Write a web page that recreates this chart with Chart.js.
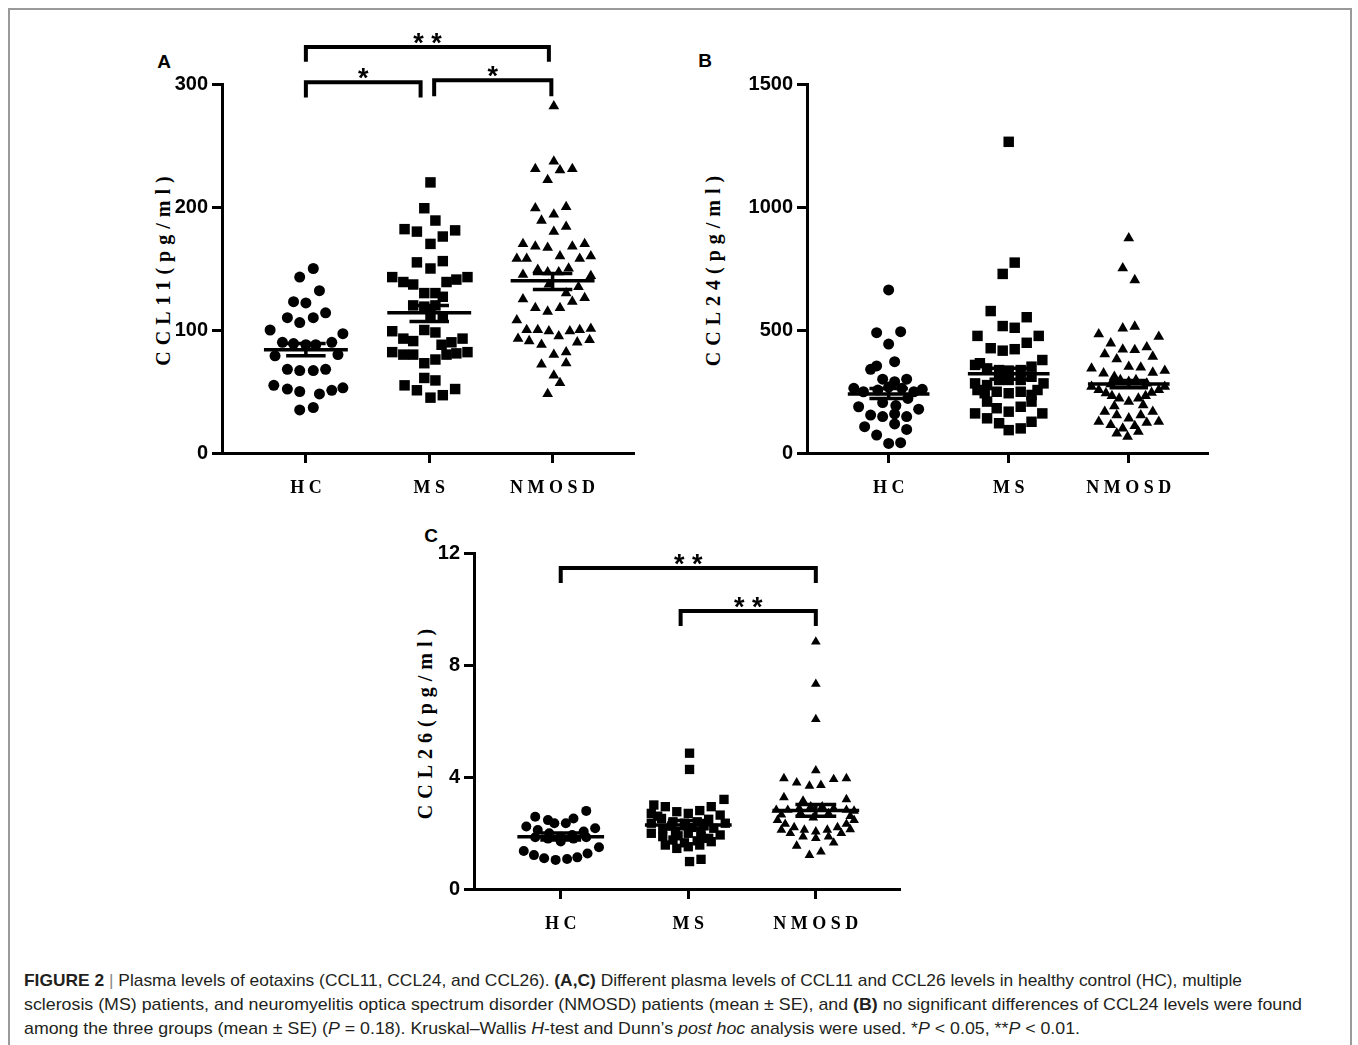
<!DOCTYPE html>
<html><head><meta charset="utf-8">
<script src="https://cdn.jsdelivr.net/npm/chart.js@4.4.0/dist/chart.umd.min.js"></script>
<style>
html,body{margin:0;padding:0;background:#fff;}
body{width:1358px;height:1045px;position:relative;overflow:hidden;font-family:"Liberation Sans",Arial,sans-serif;}
.frame{position:absolute;left:8px;top:8px;width:1340px;height:1060px;border:2px solid #9a9a9a;border-bottom:none;}
.wrap{position:absolute;}
.panel{position:absolute;font:bold 19px "Liberation Sans",Arial,sans-serif;color:#000;transform:translate(-50%,-50%);line-height:20px;}
.ytitle{position:absolute;font:bold 20px "Liberation Serif","Times New Roman",serif;letter-spacing:6px;white-space:nowrap;color:#000;transform:translate(-50%,-50%) rotate(-90deg);line-height:22px;}
.cap{position:absolute;left:24px;font-size:17px;line-height:20px;color:#231f20;white-space:nowrap;transform-origin:left center;font-family:"Liberation Sans Narrow","Liberation Sans",Arial,sans-serif;}
.cap .bar{color:#888;}
</style></head>
<body>
<div class="frame"></div>
<div class="panel" style="left:164px;top:62px">A</div>
<div class="panel" style="left:705px;top:61px">B</div>
<div class="panel" style="left:431px;top:536px">C</div>
<div class="ytitle" style="left:163px;top:268px">CCL11(pg/ml)</div>
<div class="ytitle" style="left:713px;top:268px">CCL24(pg/ml)</div>
<div class="ytitle" style="left:425px;top:721px">CCL26(pg/ml)</div>
<div class="wrap" style="left:140px;top:0;width:520px;height:530px"><canvas id="cA"></canvas></div>
<div class="wrap" style="left:690px;top:0;width:550px;height:530px"><canvas id="cB"></canvas></div>
<div class="wrap" style="left:400px;top:500px;width:530px;height:470px"><canvas id="cC"></canvas></div>
<div class="cap" id="l1" style="top:971px"><b>FIGURE 2</b> <span class="bar">|</span> Plasma levels of eotaxins (CCL11, CCL24, and CCL26). <b>(A,C)</b> Different plasma levels of CCL11 and CCL26 levels in healthy control (HC), multiple</div>
<div class="cap" id="l2" style="top:995px">sclerosis (MS) patients, and neuromyelitis optica spectrum disorder (NMOSD) patients (mean ± SE), and <b>(B)</b> no significant differences of CCL24 levels were found</div>
<div class="cap" id="l3" style="top:1019px">among the three groups (mean ± SE) (<i>P</i> = 0.18). Kruskal–Wallis <i>H</i>-test and Dunn’s <i>post hoc</i> analysis were used. *<i>P</i> &lt; 0.05, **<i>P</i> &lt; 0.01.</div>
<script>
// ---------- data ----------
const groups = ['H C', 'M S', 'N M O S D'];

const ccl11HC = [150,143,132,123,122,110,106,110,114,100,97,90,89,88,88,90,79,80,68,67,67,68,55,52,50,48,51,53,35,37];
const ccl11HCJit = [0.06,-0.05,0.11,-0.10,0.00,-0.15,-0.05,0.06,0.16,-0.29,0.30,-0.19,-0.10,0.00,0.08,0.21,-0.25,0.26,-0.15,-0.05,0.06,0.16,-0.26,-0.15,-0.05,0.11,0.21,0.30,-0.05,0.06];
const ccl11MS = [220,199,189,182,180,176,181,170,155,150,156,143,139,137,139,141,143,130,130,127,120,119,120,112,111,99,93,91,100,98,90,93,88,82,80,80,73,76,80,81,82,61,59,55,51,45,47,52];
const ccl11MSJit = [0.01,-0.04,0.05,-0.20,-0.10,0.11,0.21,0.01,-0.10,0.01,0.11,-0.30,-0.21,-0.13,0.14,0.22,0.31,-0.04,0.05,0.11,-0.13,-0.04,0.05,0.01,0.11,-0.30,-0.21,-0.13,-0.04,0.05,0.18,0.27,0.10,-0.30,-0.21,-0.13,-0.04,0.05,0.14,0.22,0.31,-0.04,0.05,-0.20,-0.10,0.01,0.11,0.21];
const ccl11NMOSD = [282,231,237,230,231,222,199,200,189,194,180,184,170,168,167,168,170,158,158,160,158,160,145,149,147,147,150,144,137,130,135,125,118,115,118,123,126,108,100,100,99,95,99,100,101,93,91,88,90,92,80,82,72,73,63,57,48];
const ccl11NMOSDJit = [0.01,-0.14,0.01,0.06,0.16,-0.04,-0.14,0.11,-0.09,0.01,0.01,0.11,-0.24,-0.14,-0.04,0.16,0.26,-0.29,-0.21,0.06,0.22,0.31,-0.24,-0.12,-0.04,0.05,0.13,0.31,-0.03,0.11,0.21,-0.24,-0.14,-0.04,0.06,0.16,0.26,-0.29,-0.21,-0.12,-0.03,0.05,0.14,0.22,0.31,-0.28,-0.19,-0.09,0.20,0.30,0.01,0.11,-0.09,0.11,0.01,0.06,-0.04];
const ccl11Mean = [84,114,140];
const ccl11SeLow = [79,107,133];
const ccl11SeHigh = [89,120,146];
const ccl11Ticks = [0,100,200,300];

const ccl24HC = [663,489,493,443,371,354,340,300,290,300,263,249,256,268,263,249,259,205,193,222,188,154,148,159,148,178,107,73,118,96,39,42];
const ccl24HCJit = [0.00,-0.10,0.10,0.00,0.05,-0.10,-0.15,-0.05,0.05,0.15,-0.29,-0.21,-0.09,0.00,0.11,0.21,0.28,-0.05,0.06,0.16,-0.25,-0.15,-0.05,0.05,0.15,0.25,-0.20,-0.10,0.05,0.15,0.00,0.10];
const ccl24MS = [1265,774,728,577,552,516,509,476,476,448,426,416,422,358,344,337,335,337,351,378,283,276,297,297,297,310,283,243,249,243,249,236,182,168,188,161,141,121,93,100,127,161,365,256,256,209,209];
const ccl24MSJit = [0.00,0.05,-0.05,-0.15,0.15,-0.05,0.05,-0.26,0.25,0.15,-0.15,-0.05,0.05,-0.28,-0.18,-0.08,0.00,0.10,0.19,0.28,-0.28,-0.18,-0.08,0.00,0.10,0.19,0.29,-0.20,-0.10,0.00,0.10,0.19,-0.10,0.00,0.10,-0.28,-0.18,-0.08,0.00,0.10,0.19,0.28,-0.24,-0.26,0.24,-0.18,0.19];
const ccl24NMOSD = [873,751,703,483,507,514,473,446,421,419,430,402,381,392,344,324,351,348,327,335,310,270,256,243,232,222,209,222,232,245,256,270,297,290,297,168,154,141,154,168,127,114,100,110,123,127,80,66,87,280,283,190,195];
const ccl24NMOSDJit = [0.00,-0.05,0.05,-0.25,-0.05,0.05,0.25,-0.15,-0.05,0.05,0.15,-0.20,-0.10,0.20,-0.31,-0.21,0.00,0.10,0.20,0.30,-0.12,-0.31,-0.25,-0.19,-0.14,-0.08,0.00,0.08,0.14,0.19,0.25,0.30,-0.07,0.00,0.06,-0.20,-0.10,0.00,0.10,0.20,-0.25,-0.15,-0.05,0.05,0.15,0.25,-0.10,-0.01,0.08,-0.15,0.15,-0.12,0.12];
const ccl24Mean = [240,322,280];
const ccl24SeLow = [222,300,265];
const ccl24SeHigh = [262,345,295];
const ccl24Ticks = [0,500,1000,1500];

const ccl26HC = [2.79,2.58,2.46,2.35,2.35,2.52,2.23,2.11,1.99,1.87,1.93,2.05,2.17,1.85,1.80,1.80,1.85,1.36,1.21,1.10,1.04,1.07,1.13,1.27,1.49,1.70];
const ccl26HCJit = [0.20,-0.20,-0.10,-0.05,0.04,0.10,-0.27,-0.18,-0.09,0.00,0.09,0.18,0.27,-0.20,-0.10,0.10,0.20,-0.29,-0.21,-0.13,-0.04,0.05,0.13,0.21,0.30,0.00];
const ccl26MS = [4.85,4.27,3.00,2.94,2.76,2.70,2.80,2.94,3.20,2.70,2.52,2.40,2.35,2.40,2.49,2.64,2.35,2.17,2.05,1.99,2.05,2.17,2.35,1.99,1.87,1.75,1.65,1.72,1.81,1.93,1.57,1.45,1.51,1.57,1.69,0.98,1.06,2.60,2.20,2.25,2.28,1.90,1.88];
const ccl26MSJit = [0.01,0.01,-0.27,-0.18,-0.09,0.00,0.09,0.18,0.28,-0.29,-0.21,-0.12,-0.03,0.07,0.16,0.25,-0.29,-0.20,-0.10,0.00,0.10,0.20,0.29,-0.29,-0.20,-0.12,-0.03,0.07,0.16,0.25,-0.18,-0.09,0.00,0.09,0.18,0.01,0.10,-0.24,0.03,-0.13,0.12,-0.08,0.10];
const ccl26NMOSD = [8.83,7.32,6.06,4.23,3.95,3.80,3.68,3.71,3.92,3.95,3.27,3.15,3.20,2.82,2.82,2.88,2.94,2.94,2.88,2.82,2.79,2.46,2.32,2.20,2.11,2.05,2.11,2.20,2.32,2.46,2.11,1.99,1.87,1.81,1.87,1.99,2.13,1.54,1.65,1.21,1.33,2.65,2.60,2.55,2.70,2.72];
const ccl26NMOSDJit = [0,0,0,0,-0.25,-0.15,-0.05,0.04,0.14,0.24,-0.25,-0.10,0.24,-0.31,-0.22,-0.13,-0.04,0.05,0.14,0.24,0.30,-0.30,-0.24,-0.17,-0.09,0.00,0.09,0.17,0.24,0.30,-0.27,-0.20,-0.10,0.00,0.10,0.20,0.27,-0.15,0.14,-0.05,0.04,-0.27,0.27,-0.02,0.10,-0.12];
const ccl26Mean = [1.87,2.29,2.80];
const ccl26SeLow = [1.75,2.15,2.60];
const ccl26SeHigh = [2.00,2.45,3.02];
const ccl26Ticks = [0,4,8,12];

// significance brackets: x1/x2 in group units, y = bar level, yEnd = leg end
const ccl11Brackets = [
  {x1:1, x2:2.97, y:330, yEnd:318, label:'* *'},
  {x1:1, x2:1.93, y:301.5, yEnd:289, label:'*'},
  {x1:2.04, x2:2.99, y:303, yEnd:290, label:'*'}
];
const ccl24Brackets = [];
const ccl26Brackets = [
  {x1:1, x2:3, y:11.46, yEnd:10.93, label:'* *'},
  {x1:1.94, x2:3, y:9.93, yEnd:9.39, label:'* *'}
];

// ---------- rendering ----------
const bracketPlugin = {
  id: 'brackets',
  afterDatasetsDraw(chart, args, opts) {
    const items = opts.items || [];
    const xs = chart.scales.x, ys = chart.scales.y, ctx = chart.ctx;
    ctx.save();
    ctx.strokeStyle = '#000'; ctx.fillStyle = '#000';
    ctx.lineWidth = 4; ctx.lineJoin = 'miter'; ctx.lineCap = 'butt';
    items.forEach(b => {
      const x1 = xs.getPixelForValue(b.x1), x2 = xs.getPixelForValue(b.x2);
      const y = ys.getPixelForValue(b.y), y2 = ys.getPixelForValue(b.yEnd);
      ctx.beginPath();
      ctx.moveTo(x1, y2); ctx.lineTo(x1, y); ctx.lineTo(x2, y); ctx.lineTo(x2, y2);
      ctx.stroke();
      ctx.font = 'bold 27px "Liberation Sans", Arial, sans-serif';
      ctx.textAlign = 'center'; ctx.textBaseline = 'alphabetic';
      ctx.fillText(b.label, (x1 + x2) / 2, y + 5);
    });
    ctx.restore();
  }
};

function pts(vals, jit, g) {
  return vals.map((v, i) => ({x: g + jit[i], y: v}));
}
function summary(mean, lo, hi, wMean, wSe) {
  const d = [];
  mean.forEach((m, i) => {
    const c = i + 1;
    d.push({x: c - wMean, y: m}, {x: c + wMean, y: m}, {x: c, y: null});
    d.push({x: c - wSe, y: hi[i]}, {x: c + wSe, y: hi[i]}, {x: c, y: null});
    d.push({x: c - wSe, y: lo[i]}, {x: c + wSe, y: lo[i]}, {x: c, y: null});
    d.push({x: c, y: lo[i]}, {x: c, y: hi[i]}, {x: c, y: null});
  });
  return d;
}

function makeChart(id, cfg) {
  const sizes = cfg.sizes;
  const sets = [
    {vals: cfg.hc, jit: cfg.hcJit, style: 'circle', r: sizes[0]},
    {vals: cfg.ms, jit: cfg.msJit, style: 'rect', r: sizes[1]},
    {vals: cfg.nm, jit: cfg.nmJit, style: 'triangle', r: sizes[2]}
  ];
  const datasets = sets.map((s, g) => ({
    type: 'scatter',
    data: pts(s.vals, s.jit, g + 1),
    pointStyle: s.style, pointRadius: s.r, pointHoverRadius: s.r,
    backgroundColor: '#000', borderColor: '#000', borderWidth: 0, clip: false
  }));
  datasets.push({
    type: 'line', showLine: true, data: summary(cfg.mean, cfg.lo, cfg.hi, 0.34, 0.16),
    borderColor: '#000', borderWidth: 3.5, pointRadius: 0, spanGaps: false, tension: 0, clip: false
  });
  const tickFont = {family: '"Liberation Sans Narrow","Liberation Sans",Arial,sans-serif', size: 20, weight: 'bold'};
  return new Chart(document.getElementById(id), {
    type: 'scatter',
    data: {datasets},
    plugins: [bracketPlugin],
    options: {
      responsive: true, maintainAspectRatio: false, animation: false,
      layout: {padding: cfg.padding},
      plugins: {legend: {display: false}, tooltip: {enabled: false}, brackets: {items: cfg.brackets}},
      scales: {
        x: {
          type: 'linear', min: 0.32, max: 3.66,
          afterBuildTicks: s => { s.ticks = groups.map((g, i) => ({value: i + 1})); },
          afterFit: s => { s.height = 50; },
          ticks: {
            callback: v => groups[Math.round(v) - 1] || '',
            autoSkip: false, maxRotation: 0, padding: 15, color: '#000',
            font: {family: '"Liberation Serif","Times New Roman",serif', size: 18, weight: 'bold'}
          },
          grid: {display: true, drawOnChartArea: false, drawTicks: true, tickLength: 10, tickWidth: 3, tickColor: '#000'},
          border: {display: true, color: '#000', width: 3}
        },
        y: {
          type: 'linear', min: cfg.ticks[0], max: cfg.ticks[cfg.ticks.length - 1],
          afterBuildTicks: s => { s.ticks = cfg.ticks.map(v => ({value: v})); },
          afterFit: s => { s.width = cfg.yWidth; },
          ticks: {color: '#000', padding: 4, font: tickFont, callback: v => String(v)},
          grid: {display: true, drawOnChartArea: false, drawTicks: true, tickLength: 10, tickWidth: 3, tickColor: '#000'},
          border: {display: true, color: '#000', width: 3}
        }
      }
    }
  });
}

makeChart('cA', {
  hc: ccl11HC, hcJit: ccl11HCJit, ms: ccl11MS, msJit: ccl11MSJit, nm: ccl11NMOSD, nmJit: ccl11NMOSDJit,
  mean: ccl11Mean, lo: ccl11SeLow, hi: ccl11SeHigh, ticks: ccl11Ticks, brackets: ccl11Brackets,
  sizes: [5.5, 7.4, 6.2], yWidth: 73, padding: {left: 9, top: 84, right: 26, bottom: 27}
});
makeChart('cB', {
  hc: ccl24HC, hcJit: ccl24HCJit, ms: ccl24MS, msJit: ccl24MSJit, nm: ccl24NMOSD, nmJit: ccl24NMOSDJit,
  mean: ccl24Mean, lo: ccl24SeLow, hi: ccl24SeHigh, ticks: ccl24Ticks, brackets: ccl24Brackets,
  sizes: [5.5, 7.4, 6.2], yWidth: 109, padding: {left: 8, top: 84, right: 32, bottom: 27}
});
makeChart('cC', {
  hc: ccl26HC, hcJit: ccl26HCJit, ms: ccl26MS, msJit: ccl26MSJit, nm: ccl26NMOSD, nmJit: ccl26NMOSDJit,
  mean: ccl26Mean, lo: ccl26SeLow, hi: ccl26SeHigh, ticks: ccl26Ticks, brackets: ccl26Brackets,
  sizes: [5.0, 6.6, 5.6], yWidth: 65, padding: {left: 9, top: 53, right: 30, bottom: 31}
});

// fit caption lines to the reference line widths
[['l1', 1218], ['l2', 1278], ['l3', 1056]].forEach(([id, w]) => {
  const el = document.getElementById(id);
  const nat = el.getBoundingClientRect().width;
  el.style.transform = 'scaleX(' + (w / nat) + ')';
});
</script>
</body></html>
